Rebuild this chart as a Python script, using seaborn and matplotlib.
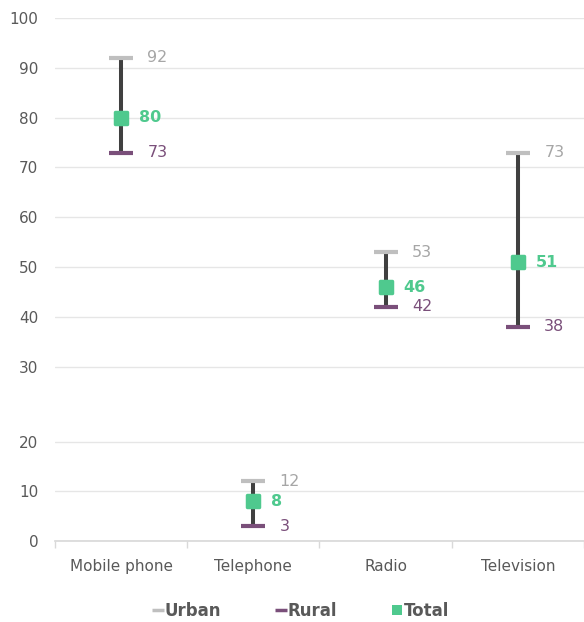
import numpy as np
import pandas as pd
import matplotlib.pyplot as plt
import seaborn as sns
from matplotlib.lines import Line2D

categories = ["Mobile phone", "Telephone", "Radio", "Television"]
urban      = [92, 12, 53, 73]
rural      = [73, 3, 42, 38]
total      = [80, 8, 46, 51]

URBAN_C = "#bfbfbf"
RURAL_C = "#7a4f7a"
TOTAL_C = "#4fc98e"
LINE_C  = "#404040"
TEXT_C  = "#595959"
GRID_C  = "#e6e6e6"


# axis is stretched between 20 and 30 in the original
def fwd(y):
    y = np.asarray(y, dtype=float)
    return np.where(y <= 20, y, np.where(y <= 30, 20 + 1.5 * (y - 20), y + 5))


def inv(t):
    t = np.asarray(t, dtype=float)
    return np.where(t <= 20, t, np.where(t <= 35, 20 + (t - 20) / 1.5, t - 5))


df = pd.DataFrame({"category": categories, "Urban": urban, "Rural": rural, "Total": total})

sns.set_theme(style="white")
plt.rcParams["font.family"] = ["DejaVu Sans"]

fig, ax = plt.subplots(figsize=(5.84, 6.22), dpi=100)
fig.subplots_adjust(left=0.094, right=1.0, top=0.971, bottom=0.130)

ax.set_yscale("function", functions=(fwd, inv))
ax.set_ylim(0, 100)
ax.set_yticks(range(0, 101, 10))
ax.yaxis.grid(True, color=GRID_C, lw=1)
ax.set_axisbelow(True)

# range line rural -> urban
ax.vlines(range(len(categories)), df["Rural"], df["Urban"], color=LINE_C, lw=2.9, zorder=2)

sns.scatterplot(data=df, x="category", y="Urban", marker="_", s=300, linewidth=3,
                color=URBAN_C, ax=ax, zorder=3)
sns.scatterplot(data=df, x="category", y="Rural", marker="_", s=300, linewidth=3,
                color=RURAL_C, ax=ax, zorder=3)
sns.scatterplot(data=df, x="category", y="Total", marker="s", s=65, linewidth=2.5,
                color=TOTAL_C, edgecolor=TOTAL_C, ax=ax, zorder=4)
ax.collections[-1].set_joinstyle("round")

for i, row in df.iterrows():
    ax.annotate(f"{row['Urban']}", (i, row["Urban"]), xytext=(19, 0), textcoords="offset points",
                va="center", ha="left", fontsize=11.5, color="#a6a6a6")
    ax.annotate(f"{row['Rural']}", (i, row["Rural"]), xytext=(19, 0), textcoords="offset points",
                va="center", ha="left", fontsize=11.5, color=RURAL_C)
    ax.annotate(f"{row['Total']}", (i, row["Total"]), xytext=(13, 0), textcoords="offset points",
                va="center", ha="left", fontsize=11.5, color=TOTAL_C, fontweight="bold")

ax.set_xlim(-0.5, len(categories) - 0.5)
ax.set_xlabel("")
ax.set_ylabel("")
ax.set_xticks(np.arange(-0.5, len(categories), 1.0), minor=True)
ax.tick_params(axis="x", which="minor", length=5, color="#d9d9d9", width=1, direction="out", bottom=True)
ax.tick_params(axis="x", which="major", length=0, pad=13, labelsize=11, labelcolor=TEXT_C)
ax.tick_params(axis="y", length=0, pad=12, labelsize=11, labelcolor=TEXT_C)

for side in ["top", "right", "left"]:
    ax.spines[side].set_visible(False)
ax.spines["bottom"].set_color("#d9d9d9")

handles = [
    Line2D([], [], marker="_", ls="", color=URBAN_C, markersize=8, mew=2.5),
    Line2D([], [], marker="_", ls="", color=RURAL_C, markersize=8, mew=2.5),
    Line2D([], [], marker="s", ls="", color=TOTAL_C, markersize=7, mew=0),
]
leg = fig.legend(handles, ["Urban", "Rural", "Total"], loc="lower center", ncol=3,
                 bbox_to_anchor=(0.515, -0.021), frameon=False, handlelength=0.6,
                 handletextpad=0.1, columnspacing=3.3,
                 prop={"weight": "bold", "size": 12})
for t in leg.get_texts():
    t.set_color(TEXT_C)

plt.savefig("out.png", dpi=100)
